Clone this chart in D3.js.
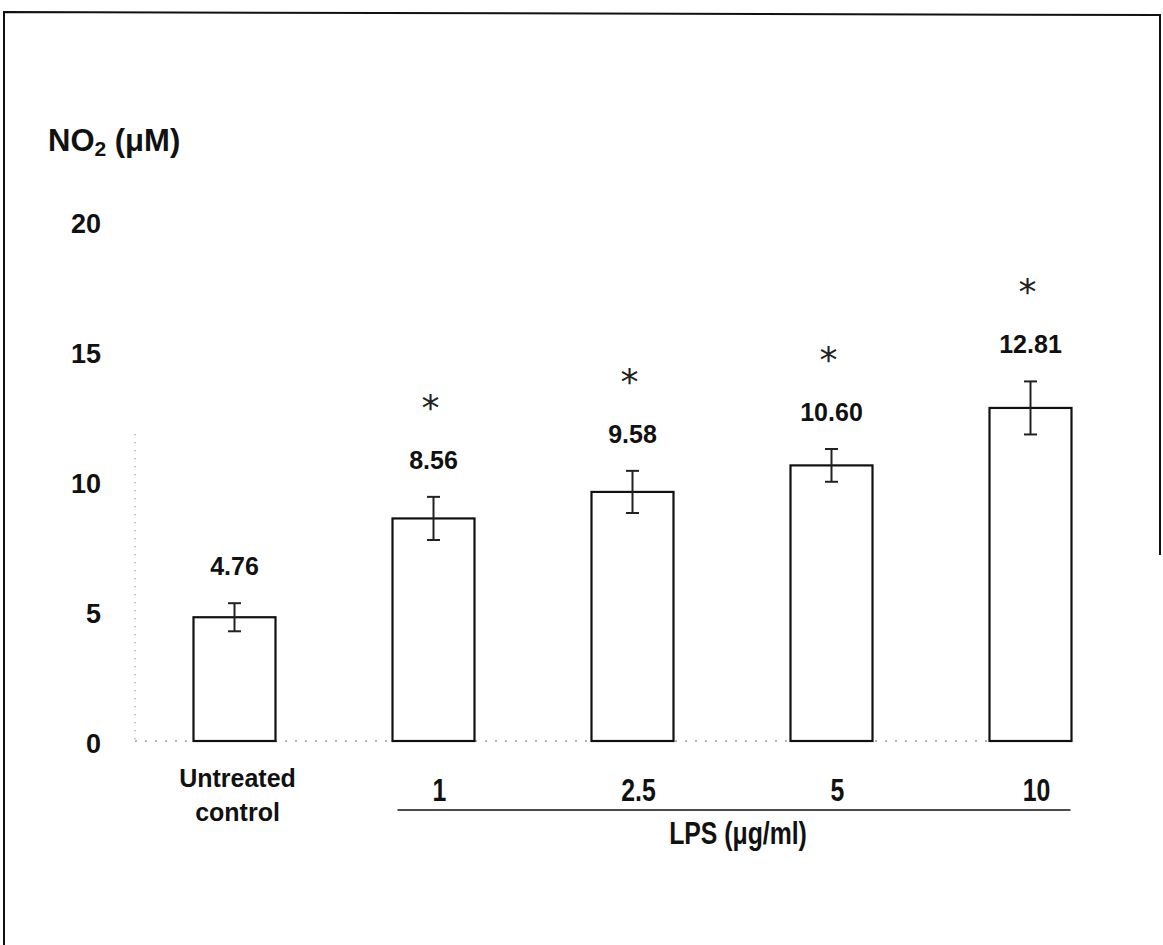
<!DOCTYPE html>
<html>
<head>
<meta charset="utf-8">
<script src="https://cdn.jsdelivr.net/npm/d3@7/dist/d3.min.js"></script>
<style>
  html, body { margin: 0; padding: 0; background: #fff; }
  svg { display: block; }
  .bold { font-family: "Liberation Sans", Arial, sans-serif; font-weight: bold; fill: #111; }
  .narrow { font-family: "Liberation Sans", Arial, sans-serif; fill: #111; }
</style>
</head>
<body>
<svg id="chart" width="1163" height="945"></svg>
<script>
// data
const categories = ["Untreated control", "1", "2.5", "5", "10"];
const means = [4.76, 8.56, 9.58, 10.60, 12.81];
const errors = [0.54, 0.83, 0.81, 0.63, 1.02];
const significant = [false, true, true, true, true];
const yTicks = [0, 5, 10, 15, 20];

const svg = d3.select("#chart");
const rows = categories.map((c, i) => ({
  cat: c, mean: means[i], err: errors[i], sig: significant[i]
}));

const y = d3.scaleLinear().domain([0, 20]).range([741, 221]);
const x = d3.scalePoint().domain(categories).range([234.5, 1030.5]);
const barWidth = 82;
const fmt = d3.format(".2f");

// frame of the scanned figure
svg.append("path")
  .attr("d", "M4,945 L4,12 L1160,15 L1160,555")
  .attr("fill", "none")
  .attr("stroke", "#111")
  .attr("stroke-width", 2);

// faint dotted axis lines
svg.append("line")
  .attr("x1", 135).attr("x2", 135)
  .attr("y1", y(11.8)).attr("y2", y(0))
  .attr("stroke", "#999").attr("stroke-width", 1.5)
  .attr("stroke-dasharray", "1,7");
svg.append("line")
  .attr("x1", 135).attr("x2", x("10") + barWidth / 2)
  .attr("y1", y(0)).attr("y2", y(0))
  .attr("stroke", "#999").attr("stroke-width", 1.5)
  .attr("stroke-dasharray", "2,8");

// y axis labels
const yAxis = svg.append("g")
  .attr("transform", "translate(135,0)")
  .call(d3.axisLeft(y).tickValues(yTicks).tickSize(0).tickPadding(34).tickFormat(d3.format("d")));
yAxis.select(".domain").remove();
yAxis.selectAll("text")
  .attr("class", "bold")
  .attr("dy", "0.43em")
  .style("font-size", "27px");

// axis title NO2 (µM)
const title = svg.append("text").attr("class", "bold")
  .attr("x", 48).attr("y", 151).style("font-size", "31px");
title.append("tspan").text("NO");
title.append("tspan").attr("dy", 5).style("font-size", "21px").text("2");
title.append("tspan").attr("dy", -5).text(" (\u03bcM)");

// bars
svg.append("g").selectAll("rect")
  .data(rows)
  .join("rect")
  .attr("x", d => x(d.cat) - barWidth / 2)
  .attr("y", d => y(d.mean))
  .attr("width", barWidth)
  .attr("height", d => y(0) - y(d.mean))
  .attr("fill", "#fff")
  .attr("stroke", "#111")
  .attr("stroke-width", 2.2);

// error bars
const eb = svg.append("g").attr("stroke", "#222").attr("stroke-width", 2);
rows.forEach(d => {
  const cx = x(d.cat);
  eb.append("line").attr("x1", cx).attr("x2", cx)
    .attr("y1", y(d.mean + d.err)).attr("y2", y(d.mean - d.err));
  [d.mean + d.err, d.mean - d.err].forEach(v => {
    eb.append("line").attr("x1", cx - 6.5).attr("x2", cx + 6.5)
      .attr("y1", y(v)).attr("y2", y(v));
  });
});

// value labels and significance stars
const labelFs = 25;
svg.append("g").selectAll("text")
  .data(rows)
  .join("text")
  .attr("class", "bold")
  .attr("text-anchor", "middle")
  .style("font-size", labelFs + "px")
  .attr("x", d => x(d.cat))
  .attr("y", d => y(d.mean + d.err) - 37 + 0.358 * labelFs)
  .text(d => fmt(d.mean));

svg.append("g").selectAll("text")
  .data(rows.filter(d => d.sig))
  .join("text")
  .attr("text-anchor", "middle")
  .style("font-family", "DejaVu Sans, sans-serif")
  .style("font-size", "36px")
  .attr("fill", "#222")
  .attr("x", d => x(d.cat) - 3)
  .attr("y", d => y(d.mean + d.err) - 37 - 60 + 20)
  .text("*");

// category labels
const ctrl = svg.append("text").attr("class", "bold")
  .attr("text-anchor", "middle")
  .style("font-size", "25px");
ctrl.append("tspan").attr("x", x(categories[0]) + 3).attr("y", 787).text("Untreated");
ctrl.append("tspan").attr("x", x(categories[0]) + 3).attr("y", 821).text("control");

// dose labels, condensed like the original narrow face
const doses = categories.slice(1);
svg.append("g").selectAll("text")
  .data(doses)
  .join("text")
  .attr("class", "narrow")
  .attr("text-anchor", "middle")
  .style("font-size", "31px")
  .style("font-weight", "bold")
  .attr("transform", d => `translate(${x(d) + 6},801) scale(0.8,1)`)
  .text(d => d);

// LPS bracket line and label
svg.append("line")
  .attr("x1", x(doses[0]) - 36).attr("x2", x(doses[doses.length - 1]) + 40)
  .attr("y1", 810).attr("y2", 810)
  .attr("stroke", "#111").attr("stroke-width", 1.6);
svg.append("text")
  .attr("class", "narrow")
  .attr("text-anchor", "middle")
  .style("font-size", "31px")
  .style("font-weight", "bold")
  .attr("transform", "translate(738,844) scale(0.8,1)")
  .text("LPS (\u03bcg/ml)");
</script>
</body>
</html>
